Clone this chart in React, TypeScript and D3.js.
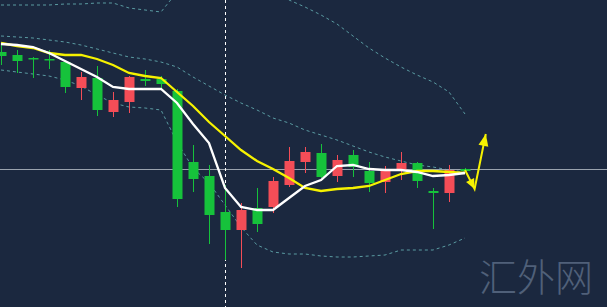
import React from "react";
import * as d3 from "d3";

const W = 607;
const H = 307;

// Candle OHLC (red = close above open, green = close below open)
const opens = [149.48, 149.45, 149.42, 149.41, 149.38, 149.12, 149.22, 148.88, 148.98, 149.21,
  149.21, 149.09, 148.38, 148.24, 147.88, 147.70, 147.92, 147.93, 148.15, 148.38,
  148.47, 148.24, 148.45, 148.29, 148.18, 148.30, 148.37, 148.09, 148.07, 148.31];
const highs = [149.55, 149.50, 149.43, 149.50, 149.39, 149.28, 149.34, 149.08, 149.24, 149.30,
  149.24, 149.11, 148.55, 148.35, 148.15, 147.97, 148.12, 148.23, 148.53, 148.53,
  148.56, 148.45, 148.50, 148.38, 148.34, 148.48, 148.38, 148.12, 148.35, 148.32];
const lows = [149.35, 149.27, 149.22, 149.31, 149.07, 149.00, 148.84, 148.83, 148.87, 149.14,
  149.12, 147.93, 148.08, 147.56, 147.40, 147.32, 147.68, 147.87, 148.13, 148.27,
  148.22, 148.18, 148.23, 148.08, 148.07, 148.20, 148.12, 147.71, 147.98, 148.28];
const closes = [149.44, 149.39, 149.41, 149.40, 149.13, 149.23, 148.90, 149.00, 149.23, 149.19,
  149.16, 148.01, 148.21, 147.85, 147.70, 147.90, 147.76, 148.19, 148.39, 148.48,
  148.23, 148.40, 148.33, 148.17, 148.31, 148.37, 148.19, 148.07, 148.30, 148.29];

// Moving averages
const maFast = [149.56, 149.55, 149.53, 149.47, 149.39, 149.31, 149.23, 149.13, 149.11, 149.11,
  149.11, 148.97, 148.76, 148.57, 148.12, 147.93, 147.90, 147.90, 148.02, 148.14,
  148.20, 148.34, 148.35, 148.31, 148.30, 148.30, 148.28, 148.24, 148.25, 148.27];
const maSlow = [149.57, 149.54, 149.52, 149.47, 149.45, 149.45, 149.41, 149.35, 149.27, 149.24,
  149.22, 149.08, 148.94, 148.78, 148.64, 148.50, 148.39, 148.31, 148.22, 148.12,
  148.09, 148.11, 148.12, 148.14, 148.20, 148.26, 148.29, 148.29, 148.28, 148.27];

// Bollinger bands
const bandUpper = [149.95, 149.95, 149.95, 149.95, 149.96, 149.96, 149.97, 149.97, 149.92, 149.90,
  149.88, 150.08, 150.25, 150.35, 150.35, 150.30, 150.22, 150.12, 150.00, 149.93,
  149.85, 149.76, 149.64, 149.52, 149.42, 149.33, 149.25, 149.18, 149.08, 148.86];
const bandMid = [149.64, 149.63, 149.62, 149.60, 149.58, 149.55, 149.51, 149.47, 149.43, 149.41,
  149.38, 149.33, 149.23, 149.14, 149.05, 148.97, 148.90, 148.82, 148.77, 148.70,
  148.65, 148.60, 148.54, 148.48, 148.43, 148.39, 148.35, 148.33, 148.30, 148.28];
const bandLower = [149.30, 149.28, 149.26, 149.24, 149.20, 149.14, 149.05, 148.97, 148.93, 148.92,
  148.90, 148.58, 148.32, 148.17, 147.95, 147.73, 147.55, 147.48, 147.46, 147.46,
  147.44, 147.43, 147.43, 147.44, 147.45, 147.50, 147.50, 147.50, 147.55, 147.62];

const lastPrice = 148.305;
const markerIndex = 14;

// Projection path drawn after the last candle: [bar index, price]
const arrowPath: [number, number][] = [
  [29, 148.30],
  [29.6, 148.11],
  [30.3, 148.66],
];

const watermark = "汇外网";

const BG = "#1b283f";
const UP = "#f44d57";
const DOWN = "#16c23b";

export default function App() {
  const x = d3.scaleLinear().domain([0, 29]).range([1, 465]);
  const y = d3.scaleLinear().domain([150, 146.93]).range([0, H]);
  const bodyW = 10;

  const line = d3
    .line<number>()
    .x((_, i) => x(i))
    .y((d) => y(d));

  const arrowPts = arrowPath.map(([i, p]) => [x(i), y(p)] as [number, number]);

  const head = (from: [number, number], to: [number, number], len: number, half: number) => {
    const ang = Math.atan2(to[1] - from[1], to[0] - from[0]);
    const bx = to[0] - len * Math.cos(ang);
    const by = to[1] - len * Math.sin(ang);
    const px = -Math.sin(ang) * half;
    const py = Math.cos(ang) * half;
    return `M${to[0]},${to[1]}L${bx + px},${by + py}L${bx - px},${by - py}Z`;
  };

  return (
    <div style={{ position: "fixed", left: 0, top: 0, width: W, height: H }}>
      <svg width={W} height={H} style={{ display: "block" }}>
        <rect width={W} height={H} fill={BG} />

        {/* Bollinger bands */}
        {[bandUpper, bandMid, bandLower].map((b, k) => (
          <path
            key={k}
            d={line(b) ?? ""}
            fill="none"
            stroke="#5a9ba2"
            strokeWidth={1}
            strokeDasharray="3 3"
          />
        ))}

        {/* last price line */}
        <line x1={0} x2={W} y1={y(lastPrice)} y2={y(lastPrice)} stroke="#9aa3ae" strokeWidth={1} />

        {/* time marker */}
        <line
          x1={x(markerIndex) + 0.5}
          x2={x(markerIndex) + 0.5}
          y1={0}
          y2={H}
          stroke="#ffffff"
          strokeWidth={1}
          strokeDasharray="3 3"
        />

        {/* candles */}
        {opens.map((o, i) => {
          const c = closes[i];
          const col = c >= o ? UP : DOWN;
          const top = y(Math.max(o, c));
          const bot = y(Math.min(o, c));
          const cx = Math.round(x(i)) + 0.5;
          return (
            <g key={i}>
              <line x1={cx} x2={cx} y1={y(highs[i])} y2={y(lows[i])} stroke={col} strokeWidth={1} />
              <rect
                x={cx - bodyW / 2}
                y={top}
                width={bodyW}
                height={Math.max(bot - top, 1.5)}
                fill={col}
              />
            </g>
          );
        })}

        {/* moving averages */}
        <path d={line(maSlow) ?? ""} fill="none" stroke="#f6f200" strokeWidth={2.3} />
        <path d={line(maFast) ?? ""} fill="none" stroke="#ffffff" strokeWidth={2.3} />

        {/* projection arrow */}
        <polyline
          points={arrowPts.map((p) => p.join(",")).join(" ")}
          fill="none"
          stroke="#f6f200"
          strokeWidth={2}
          strokeLinejoin="miter"
        />
        <path d={head(arrowPts[0], arrowPts[1], 10, 4.5)} fill="#f6f200" />
        <path d={head(arrowPts[1], arrowPts[2], 12, 5)} fill="#f6f200" />

        {/* watermark */}
        <text
          x={479}
          y={291}
          fontFamily="'Noto Sans CJK SC', sans-serif"
          fontSize={38}
          fontWeight={300}
          fill="#506079"
        >
          {watermark}
        </text>
      </svg>
    </div>
  );
}
